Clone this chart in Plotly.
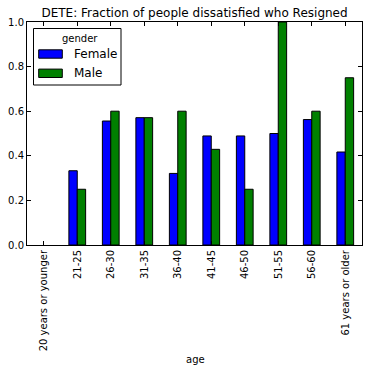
import plotly.graph_objects as go

categories = ["20 years or younger", "21-25", "26-30", "31-35", "36-40",
              "41-45", "46-50", "51-55", "56-60", "61 years or older"]
female = [None, 0.333, 0.556, 0.571, 0.321, 0.489, 0.489, 0.500, 0.5625, 0.417]
male = [None, 0.25, 0.60, 0.571, 0.60, 0.429, 0.25, 1.0, 0.60, 0.75]
yticks = [0.0, 0.2, 0.4, 0.6, 0.8, 1.0]
series_names = ["Female", "Male"]
series_colors = ["#0000FF", "#008000"]

W, H = 369, 372
L, R, T, B = 27, 362, 22, 245  # plot area in pixels

FONT = "DejaVu Sans"

fig = go.Figure()
for name, vals, col in zip(series_names, [female, male], series_colors):
    fig.add_trace(go.Bar(x=categories, y=vals, name=name,
                         marker=dict(color=col, line=dict(color="black", width=1)),
                         showlegend=False, hoverinfo="skip"))


def px(x):
    return (x - L) / (R - L)


def py(y):
    return (B - y) / (B - T)


shapes = [
    # legend box
    dict(type="rect", xref="paper", yref="paper", x0=px(33.5), x1=px(121),
         y0=py(85), y1=py(28.5), line=dict(color="black", width=1), fillcolor="white"),
]
annotations = [
    dict(text="gender", xref="paper", yref="paper", x=px(59.5), y=py(38),
         showarrow=False, font=dict(size=10, color="black", family=FONT),
         xanchor="left", yanchor="middle"),
    dict(text="age", xref="paper", yref="paper", x=px(195), y=py(359),
         showarrow=False, font=dict(size=10, color="black", family=FONT),
         xanchor="center", yanchor="middle"),
]
for i, (name, col) in enumerate(zip(series_names, series_colors)):
    yc = 54 + i * 19.3
    shapes.append(dict(type="rect", xref="paper", yref="paper", x0=px(38.7), x1=px(62.3),
                       y0=py(yc + 4.2), y1=py(yc - 4.2), fillcolor=col,
                       line=dict(color="black", width=1)))
    annotations.append(dict(text=name, xref="paper", yref="paper", x=px(71.5), y=py(yc),
                            showarrow=False, font=dict(size=12, color="black", family=FONT),
                            xanchor="left", yanchor="middle"))

fig.update_layout(
    width=W, height=H,
    margin=dict(l=L, r=W - R, t=T, b=H - B, pad=0, autoexpand=False),
    paper_bgcolor="white", plot_bgcolor="white",
    barmode="group", bargap=0.5, bargroupgap=0,
    font=dict(family=FONT, size=10, color="black"),
    title=dict(text="DETE: Fraction of people dissatisfied who Resigned",
               x=(L + R) / 2 / W, xanchor="center", y=1 - 13 / H, yanchor="middle",
               font=dict(size=12, color="black", family=FONT)),
    xaxis=dict(type="category", range=[-0.5, len(categories) - 0.5], automargin=False,
               showline=True, linecolor="black", linewidth=1, mirror="allticks",
               ticks="inside", ticklen=4, tickcolor="black", tickangle=-90,
               showgrid=False, zeroline=False,
               tickfont=dict(size=10, family=FONT)),
    yaxis=dict(range=[0, 1], tickvals=yticks, tickformat=".1f", automargin=False,
               showline=True, linecolor="black", linewidth=1, mirror="allticks",
               ticks="inside", ticklen=4, tickcolor="black",
               showgrid=False, zeroline=False,
               tickfont=dict(size=10, family=FONT)),
    shapes=shapes, annotations=annotations,
)

fig.write_html("out.html", config={"displayModeBar": False},
               post_script="document.body.style.margin='0';document.body.style.padding='0';")
